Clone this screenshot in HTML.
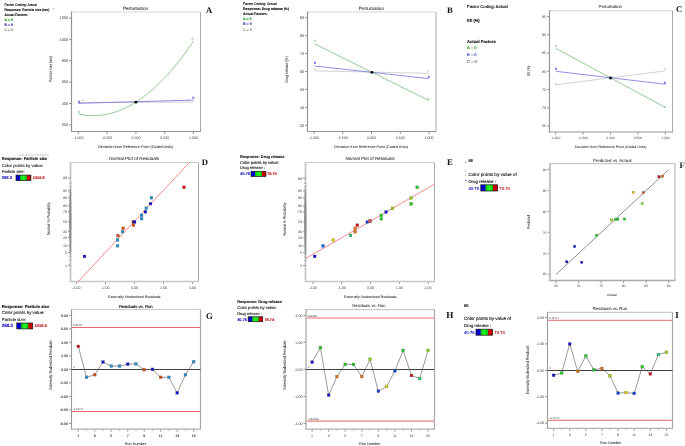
<!DOCTYPE html>
<html><head><meta charset="utf-8"><title>Figure</title><style>html,body{margin:0;padding:0;background:#fff;width:685px;height:446px;overflow:hidden;position:relative;}svg text{font-family:"Liberation Sans", sans-serif;text-rendering:geometricPrecision;} svg{will-change:transform;}</style></head><body>
<svg width="685" height="446" viewBox="0 0 685 446" style="display:block;position:absolute;left:0;top:0" font-family='"Liberation Sans", sans-serif'>
<defs><linearGradient id="cbar" x1="0" x2="1" y1="0" y2="0"><stop offset="0" stop-color="#0000d0"/><stop offset="0.25" stop-color="#0000d0"/><stop offset="0.3" stop-color="#10c010"/><stop offset="0.5" stop-color="#20ff20"/><stop offset="0.7" stop-color="#10c010"/><stop offset="0.75" stop-color="#d00000"/><stop offset="1" stop-color="#c00000"/></linearGradient></defs>
<rect x="0" y="0" width="685" height="446" fill="#ffffff"/>
<text x="4.50" y="5.97" font-size="3.53" fill="#000" stroke="#000" stroke-width="0.12" textLength="32.30" lengthAdjust="spacingAndGlyphs">Factor Coding: Actual</text>
<text x="4.50" y="11.17" font-size="3.53" fill="#111" stroke="#111" stroke-width="0.12" font-weight="bold" textLength="44.80" lengthAdjust="spacingAndGlyphs">Response: Particle size (nm)</text>
<text x="4.50" y="16.07" font-size="3.53" fill="#111" stroke="#111" stroke-width="0.12" font-weight="bold" textLength="23.30" lengthAdjust="spacingAndGlyphs">Actual Factors:</text>
<text x="4.50" y="21.19" font-size="3.57" fill="#1a9a1a" stroke="#1a9a1a" stroke-width="0.12" font-weight="bold" textLength="8.50" lengthAdjust="spacingAndGlyphs">A = 0</text>
<text x="4.50" y="26.37" font-size="3.53" fill="#2a2ab0" stroke="#2a2ab0" stroke-width="0.12" font-weight="bold" textLength="8.50" lengthAdjust="spacingAndGlyphs">B = 0</text>
<text x="4.50" y="31.27" font-size="3.53" fill="#777" stroke="#777" stroke-width="0.12" textLength="8.50" lengthAdjust="spacingAndGlyphs">C = 0</text>
<text x="53.20" y="10.55" font-size="4.3" fill="#555" stroke="#555" stroke-width="0.12">'</text>
<text x="123.00" y="10.05" font-size="4.59" fill="#000" textLength="25.00" lengthAdjust="spacingAndGlyphs">Perturbation</text>
<text x="206.00" y="13.00" font-size="8.6" fill="#111" font-weight="bold" style='font-family:"Liberation Serif", serif'>A</text>
<line x1="69.00" y1="18.00" x2="71.50" y2="18.00" stroke="#666" stroke-width="0.7" />
<text x="68.00" y="19.37" font-size="3.8" fill="#3a3a3a" text-anchor="end">1200</text>
<line x1="69.00" y1="39.30" x2="71.50" y2="39.30" stroke="#666" stroke-width="0.7" />
<text x="68.00" y="40.67" font-size="3.8" fill="#3a3a3a" text-anchor="end">1000</text>
<line x1="69.00" y1="60.70" x2="71.50" y2="60.70" stroke="#666" stroke-width="0.7" />
<text x="68.00" y="62.07" font-size="3.8" fill="#3a3a3a" text-anchor="end">800</text>
<line x1="69.00" y1="82.10" x2="71.50" y2="82.10" stroke="#666" stroke-width="0.7" />
<text x="68.00" y="83.47" font-size="3.8" fill="#3a3a3a" text-anchor="end">600</text>
<line x1="69.00" y1="103.50" x2="71.50" y2="103.50" stroke="#666" stroke-width="0.7" />
<text x="68.00" y="104.87" font-size="3.8" fill="#3a3a3a" text-anchor="end">400</text>
<line x1="69.00" y1="124.90" x2="71.50" y2="124.90" stroke="#666" stroke-width="0.7" />
<text x="68.00" y="126.27" font-size="3.8" fill="#3a3a3a" text-anchor="end">200</text>
<line x1="78.30" y1="131.50" x2="78.30" y2="134.00" stroke="#666" stroke-width="0.7" />
<text x="78.30" y="138.60" font-size="3.6" fill="#3a3a3a" text-anchor="middle">-1.000</text>
<line x1="107.10" y1="131.50" x2="107.10" y2="134.00" stroke="#666" stroke-width="0.7" />
<text x="107.10" y="138.60" font-size="3.6" fill="#3a3a3a" text-anchor="middle">-0.500</text>
<line x1="135.90" y1="131.50" x2="135.90" y2="134.00" stroke="#666" stroke-width="0.7" />
<text x="135.90" y="138.60" font-size="3.6" fill="#3a3a3a" text-anchor="middle">0.000</text>
<line x1="164.70" y1="131.50" x2="164.70" y2="134.00" stroke="#666" stroke-width="0.7" />
<text x="164.70" y="138.60" font-size="3.6" fill="#3a3a3a" text-anchor="middle">0.500</text>
<line x1="193.50" y1="131.50" x2="193.50" y2="134.00" stroke="#666" stroke-width="0.7" />
<text x="193.50" y="138.60" font-size="3.6" fill="#3a3a3a" text-anchor="middle">1.000</text>
<line x1="71.50" y1="12.00" x2="200.50" y2="12.00" stroke="#d8d8d8" stroke-width="1.2" />
<line x1="200.50" y1="12.00" x2="200.50" y2="131.50" stroke="#a8a8a8" stroke-width="1.0" />
<line x1="71.50" y1="11.50" x2="71.50" y2="132.10" stroke="#959595" stroke-width="1.2" />
<line x1="70.90" y1="131.50" x2="201.00" y2="131.50" stroke="#959595" stroke-width="1.2" />
<text x="98.20" y="147.73" font-size="3.69" fill="#000" textLength="75.00" lengthAdjust="spacingAndGlyphs">Deviation from Reference Point (Coded Units)</text>
<text transform="translate(50.90,69.10) rotate(-90)" x="0" y="1.51" font-size="4.2" fill="#000" text-anchor="middle" textLength="25.80" lengthAdjust="spacingAndGlyphs">Particle size (nm)</text>
<polyline points="78.30,113.95 81.18,114.53 84.06,114.98 86.94,115.31 89.82,115.52 92.70,115.61 95.58,115.57 98.46,115.41 101.34,115.13 104.22,114.72 107.10,114.19 109.98,113.54 112.86,112.76 115.74,111.86 118.62,110.84 121.50,109.70 124.38,108.43 127.26,107.04 130.14,105.52 133.02,103.89 135.90,102.13 138.78,100.25 141.66,98.24 144.54,96.11 147.42,93.86 150.30,91.49 153.18,88.99 156.06,86.37 158.94,83.62 161.82,80.76 164.70,77.77 167.58,74.65 170.46,71.42 173.34,68.06 176.22,64.58 179.10,60.97 181.98,57.25 184.86,53.39 187.74,49.42 190.62,45.32 193.50,41.10" fill="none" stroke="#4aaa4a" stroke-width="0.6"/>
<line x1="78.30" y1="102.60" x2="193.50" y2="102.10" stroke="#b4b4b4" stroke-width="0.6" />
<line x1="78.30" y1="103.30" x2="193.50" y2="100.10" stroke="#6c6cd8" stroke-width="0.8" />
<circle cx="135.9" cy="102.2" r="1.4" fill="#000"/>
<text x="78.00" y="112.95" font-size="3.2" fill="#3aa53a">A</text>
<text x="78.00" y="102.65" font-size="3.2" fill="#4040d0" font-weight="bold">B</text>
<text x="81.80" y="101.38" font-size="3.0" fill="#999">C</text>
<text x="191.50" y="39.95" font-size="3.2" fill="#3aa53a">A</text>
<text x="192.20" y="98.85" font-size="3.2" fill="#4040d0" font-weight="bold">B</text>
<text x="187.50" y="101.38" font-size="3.0" fill="#999">C</text>
<text x="243.10" y="4.67" font-size="3.53" fill="#000" stroke="#000" stroke-width="0.12" textLength="33.60" lengthAdjust="spacingAndGlyphs">Factor Coding: Actual</text>
<text x="243.10" y="9.97" font-size="3.53" fill="#111" stroke="#111" stroke-width="0.12" font-weight="bold" textLength="46.00" lengthAdjust="spacingAndGlyphs">Response: Drug release  (%)</text>
<text x="243.10" y="14.97" font-size="3.53" fill="#111" stroke="#111" stroke-width="0.12" font-weight="bold" textLength="24.50" lengthAdjust="spacingAndGlyphs">Actual Factors:</text>
<text x="243.10" y="20.09" font-size="3.57" fill="#1a9a1a" stroke="#1a9a1a" stroke-width="0.12" font-weight="bold" textLength="8.50" lengthAdjust="spacingAndGlyphs">A = 0</text>
<text x="243.10" y="25.27" font-size="3.53" fill="#2a2ab0" stroke="#2a2ab0" stroke-width="0.12" font-weight="bold" textLength="8.50" lengthAdjust="spacingAndGlyphs">B = 0</text>
<text x="243.10" y="30.57" font-size="3.53" fill="#777" stroke="#777" stroke-width="0.12" textLength="8.50" lengthAdjust="spacingAndGlyphs">C = 0</text>
<text x="358.80" y="9.67" font-size="4.63" fill="#000" textLength="25.20" lengthAdjust="spacingAndGlyphs">Perturbation</text>
<text x="447.00" y="13.00" font-size="8.6" fill="#111" font-weight="bold" style='font-family:"Liberation Serif", serif'>B</text>
<line x1="305.00" y1="17.70" x2="307.50" y2="17.70" stroke="#666" stroke-width="0.7" />
<text x="304.00" y="19.07" font-size="3.8" fill="#3a3a3a" text-anchor="end">90</text>
<line x1="305.00" y1="35.63" x2="307.50" y2="35.63" stroke="#666" stroke-width="0.7" />
<text x="304.00" y="37.00" font-size="3.8" fill="#3a3a3a" text-anchor="end">80</text>
<line x1="305.00" y1="53.56" x2="307.50" y2="53.56" stroke="#666" stroke-width="0.7" />
<text x="304.00" y="54.93" font-size="3.8" fill="#3a3a3a" text-anchor="end">70</text>
<line x1="305.00" y1="71.49" x2="307.50" y2="71.49" stroke="#666" stroke-width="0.7" />
<text x="304.00" y="72.86" font-size="3.8" fill="#3a3a3a" text-anchor="end">60</text>
<line x1="305.00" y1="89.42" x2="307.50" y2="89.42" stroke="#666" stroke-width="0.7" />
<text x="304.00" y="90.79" font-size="3.8" fill="#3a3a3a" text-anchor="end">50</text>
<line x1="305.00" y1="107.35" x2="307.50" y2="107.35" stroke="#666" stroke-width="0.7" />
<text x="304.00" y="108.72" font-size="3.8" fill="#3a3a3a" text-anchor="end">40</text>
<line x1="305.00" y1="125.28" x2="307.50" y2="125.28" stroke="#666" stroke-width="0.7" />
<text x="304.00" y="126.65" font-size="3.8" fill="#3a3a3a" text-anchor="end">30</text>
<line x1="313.90" y1="131.50" x2="313.90" y2="134.00" stroke="#666" stroke-width="0.7" />
<text x="313.90" y="138.60" font-size="3.6" fill="#3a3a3a" text-anchor="middle">-1.000</text>
<line x1="342.70" y1="131.50" x2="342.70" y2="134.00" stroke="#666" stroke-width="0.7" />
<text x="342.70" y="138.60" font-size="3.6" fill="#3a3a3a" text-anchor="middle">-0.500</text>
<line x1="371.50" y1="131.50" x2="371.50" y2="134.00" stroke="#666" stroke-width="0.7" />
<text x="371.50" y="138.60" font-size="3.6" fill="#3a3a3a" text-anchor="middle">0.000</text>
<line x1="400.30" y1="131.50" x2="400.30" y2="134.00" stroke="#666" stroke-width="0.7" />
<text x="400.30" y="138.60" font-size="3.6" fill="#3a3a3a" text-anchor="middle">0.500</text>
<line x1="429.10" y1="131.50" x2="429.10" y2="134.00" stroke="#666" stroke-width="0.7" />
<text x="429.10" y="138.60" font-size="3.6" fill="#3a3a3a" text-anchor="middle">1.000</text>
<line x1="307.50" y1="12.00" x2="436.00" y2="12.00" stroke="#d8d8d8" stroke-width="1.2" />
<line x1="436.00" y1="12.00" x2="436.00" y2="131.50" stroke="#a8a8a8" stroke-width="1.0" />
<line x1="307.50" y1="11.50" x2="307.50" y2="132.10" stroke="#959595" stroke-width="1.2" />
<line x1="306.90" y1="131.50" x2="436.50" y2="131.50" stroke="#959595" stroke-width="1.2" />
<text x="334.30" y="147.71" font-size="3.64" fill="#000" textLength="74.00" lengthAdjust="spacingAndGlyphs">Deviation from Reference Point (Coded Units)</text>
<text transform="translate(286.50,69.30) rotate(-90)" x="0" y="1.51" font-size="4.2" fill="#000" text-anchor="middle" textLength="26.30" lengthAdjust="spacingAndGlyphs">Drug release (%)</text>
<line x1="314.70" y1="43.90" x2="428.80" y2="100.50" stroke="#4aaa4a" stroke-width="0.6" />
<line x1="314.70" y1="70.90" x2="428.80" y2="73.30" stroke="#b4b4b4" stroke-width="0.6" />
<line x1="314.70" y1="66.00" x2="428.80" y2="78.60" stroke="#6c6cd8" stroke-width="0.75" />
<circle cx="371.9" cy="72.3" r="1.4" fill="#000"/>
<text x="313.70" y="42.35" font-size="3.2" fill="#3aa53a">A</text>
<text x="313.70" y="64.45" font-size="3.2" fill="#4040d0" font-weight="bold">B</text>
<text x="313.70" y="70.28" font-size="3.0" fill="#999">C</text>
<text x="427.30" y="100.15" font-size="3.2" fill="#3aa53a">A</text>
<text x="427.80" y="77.75" font-size="3.2" fill="#4040d0" font-weight="bold">B</text>
<text x="427.30" y="71.98" font-size="3.0" fill="#999">C</text>
<text x="467.10" y="7.83" font-size="4.26" fill="#000" stroke="#000" stroke-width="0.12" textLength="40.50" lengthAdjust="spacingAndGlyphs">Factor Coding: Actual</text>
<text x="467.10" y="21.93" font-size="4.26" fill="#111" stroke="#111" stroke-width="0.12" font-weight="bold" textLength="12.50" lengthAdjust="spacingAndGlyphs">EE (%)</text>
<text x="467.10" y="42.63" font-size="4.26" fill="#111" stroke="#111" stroke-width="0.12" font-weight="bold" textLength="28.70" lengthAdjust="spacingAndGlyphs">Actual Factors</text>
<text x="467.10" y="49.38" font-size="4.12" fill="#1a9a1a" stroke="#1a9a1a" stroke-width="0.12" textLength="9.50" lengthAdjust="spacingAndGlyphs">A = 0</text>
<text x="467.10" y="56.48" font-size="4.1" fill="#2a2ab0" stroke="#2a2ab0" stroke-width="0.12" textLength="9.50" lengthAdjust="spacingAndGlyphs">B = 0</text>
<text x="467.10" y="63.18" font-size="4.1" fill="#555" stroke="#555" stroke-width="0.12" textLength="9.50" lengthAdjust="spacingAndGlyphs">C = 0</text>
<text x="598.60" y="8.25" font-size="4.3" fill="#000" textLength="23.40" lengthAdjust="spacingAndGlyphs">Perturbation</text>
<text x="676.00" y="11.90" font-size="8.6" fill="#111" font-weight="bold" style='font-family:"Liberation Serif", serif'>C</text>
<line x1="547.00" y1="16.60" x2="549.50" y2="16.60" stroke="#666" stroke-width="0.7" />
<text x="546.00" y="17.90" font-size="3.6" fill="#3a3a3a" text-anchor="end">95</text>
<line x1="547.00" y1="34.83" x2="549.50" y2="34.83" stroke="#666" stroke-width="0.7" />
<text x="546.00" y="36.13" font-size="3.6" fill="#3a3a3a" text-anchor="end">90</text>
<line x1="547.00" y1="53.06" x2="549.50" y2="53.06" stroke="#666" stroke-width="0.7" />
<text x="546.00" y="54.36" font-size="3.6" fill="#3a3a3a" text-anchor="end">85</text>
<line x1="547.00" y1="71.29" x2="549.50" y2="71.29" stroke="#666" stroke-width="0.7" />
<text x="546.00" y="72.59" font-size="3.6" fill="#3a3a3a" text-anchor="end">80</text>
<line x1="547.00" y1="89.52" x2="549.50" y2="89.52" stroke="#666" stroke-width="0.7" />
<text x="546.00" y="90.82" font-size="3.6" fill="#3a3a3a" text-anchor="end">75</text>
<line x1="547.00" y1="107.75" x2="549.50" y2="107.75" stroke="#666" stroke-width="0.7" />
<text x="546.00" y="109.05" font-size="3.6" fill="#3a3a3a" text-anchor="end">70</text>
<line x1="547.00" y1="125.98" x2="549.50" y2="125.98" stroke="#666" stroke-width="0.7" />
<text x="546.00" y="127.28" font-size="3.6" fill="#3a3a3a" text-anchor="end">65</text>
<line x1="555.60" y1="132.00" x2="555.60" y2="134.50" stroke="#666" stroke-width="0.7" />
<text x="555.60" y="139.02" font-size="3.4" fill="#3a3a3a" text-anchor="middle">-1.000</text>
<line x1="583.05" y1="132.00" x2="583.05" y2="134.50" stroke="#666" stroke-width="0.7" />
<text x="583.05" y="139.02" font-size="3.4" fill="#3a3a3a" text-anchor="middle">-0.500</text>
<line x1="610.50" y1="132.00" x2="610.50" y2="134.50" stroke="#666" stroke-width="0.7" />
<text x="610.50" y="139.02" font-size="3.4" fill="#3a3a3a" text-anchor="middle">0.000</text>
<line x1="637.95" y1="132.00" x2="637.95" y2="134.50" stroke="#666" stroke-width="0.7" />
<text x="637.95" y="139.02" font-size="3.4" fill="#3a3a3a" text-anchor="middle">0.500</text>
<line x1="665.40" y1="132.00" x2="665.40" y2="134.50" stroke="#666" stroke-width="0.7" />
<text x="665.40" y="139.02" font-size="3.4" fill="#3a3a3a" text-anchor="middle">1.000</text>
<line x1="549.50" y1="10.70" x2="672.50" y2="10.70" stroke="#d8d8d8" stroke-width="1.2" />
<line x1="672.50" y1="10.70" x2="672.50" y2="132.00" stroke="#a8a8a8" stroke-width="1.0" />
<line x1="549.50" y1="10.20" x2="549.50" y2="132.60" stroke="#959595" stroke-width="1.2" />
<line x1="548.90" y1="132.00" x2="673.00" y2="132.00" stroke="#959595" stroke-width="1.2" />
<text x="574.70" y="147.97" font-size="3.53" fill="#000" textLength="71.80" lengthAdjust="spacingAndGlyphs">Deviation from Reference Point (Coded Units)</text>
<text transform="translate(528.70,70.80) rotate(-90)" x="0" y="1.51" font-size="4.2" fill="#000" text-anchor="middle" textLength="10.30" lengthAdjust="spacingAndGlyphs">EE (%)</text>
<line x1="555.90" y1="48.40" x2="665.10" y2="107.30" stroke="#4aaa4a" stroke-width="0.6" />
<line x1="555.90" y1="84.80" x2="665.10" y2="70.90" stroke="#b4b4b4" stroke-width="0.6" />
<line x1="555.90" y1="71.30" x2="665.10" y2="84.20" stroke="#6c6cd8" stroke-width="0.75" />
<circle cx="610.5" cy="78.0" r="1.4" fill="#000"/>
<text x="554.90" y="46.85" font-size="3.2" fill="#3aa53a">A</text>
<text x="554.90" y="70.35" font-size="3.2" fill="#4040d0" font-weight="bold">B</text>
<text x="554.90" y="84.78" font-size="3.0" fill="#999">C</text>
<text x="664.10" y="108.15" font-size="3.2" fill="#3aa53a">A</text>
<text x="664.10" y="83.85" font-size="3.2" fill="#4040d0" font-weight="bold">B</text>
<text x="664.10" y="69.88" font-size="3.0" fill="#999">C</text>
<text x="18.40" y="155.88" font-size="3.28" fill="#ccc" stroke="#ccc" stroke-width="0.12" textLength="30.50" lengthAdjust="spacingAndGlyphs">Deviation from Reference Point (Coded Units)</text>
<text x="1.80" y="160.46" font-size="4.06" fill="#111" stroke="#111" stroke-width="0.12" font-weight="bold" textLength="45.30" lengthAdjust="spacingAndGlyphs">Response: Particle size</text>
<text x="1.80" y="167.04" font-size="4.28" fill="#222" stroke="#222" stroke-width="0.12" textLength="41.20" lengthAdjust="spacingAndGlyphs">Color points by value:</text>
<text x="1.80" y="172.75" font-size="4.04" fill="#222" stroke="#222" stroke-width="0.12" textLength="22.90" lengthAdjust="spacingAndGlyphs">Particle size:</text>
<text x="1.80" y="179.08" font-size="4.12" fill="#2020c0" stroke="#2020c0" stroke-width="0.12" font-weight="bold" textLength="10.30" lengthAdjust="spacingAndGlyphs">298.3</text>
<rect x="16.00" y="175.10" width="14.90" height="5.40" fill="url(#cbar)" stroke="#111" stroke-width="0.7"/>
<text x="32.70" y="179.03" font-size="3.96" fill="#c02020" stroke="#c02020" stroke-width="0.12" font-weight="bold" textLength="12.10" lengthAdjust="spacingAndGlyphs">1019.6</text>
<text x="109.30" y="160.43" font-size="4.52" fill="#000" textLength="49.70" lengthAdjust="spacingAndGlyphs">Normal Plot of Residuals</text>
<text x="201.70" y="165.20" font-size="8.6" fill="#111" font-weight="bold" style='font-family:"Liberation Serif", serif'>D</text>
<line x1="76.40" y1="281.50" x2="76.40" y2="284.00" stroke="#666" stroke-width="0.7" />
<text x="76.40" y="288.80" font-size="3.6" fill="#3a3a3a" text-anchor="middle">-4.00</text>
<line x1="105.45" y1="281.50" x2="105.45" y2="284.00" stroke="#666" stroke-width="0.7" />
<text x="105.45" y="288.80" font-size="3.6" fill="#3a3a3a" text-anchor="middle">-2.00</text>
<line x1="134.50" y1="281.50" x2="134.50" y2="284.00" stroke="#666" stroke-width="0.7" />
<text x="134.50" y="288.80" font-size="3.6" fill="#3a3a3a" text-anchor="middle">0.00</text>
<line x1="163.55" y1="281.50" x2="163.55" y2="284.00" stroke="#666" stroke-width="0.7" />
<text x="163.55" y="288.80" font-size="3.6" fill="#3a3a3a" text-anchor="middle">2.00</text>
<line x1="192.60" y1="281.50" x2="192.60" y2="284.00" stroke="#666" stroke-width="0.7" />
<text x="192.60" y="288.80" font-size="3.6" fill="#3a3a3a" text-anchor="middle">4.00</text>
<line x1="70.50" y1="162.50" x2="198.50" y2="162.50" stroke="#cccccc" stroke-width="1.0" />
<line x1="198.50" y1="162.50" x2="198.50" y2="281.50" stroke="#a8a8a8" stroke-width="1.0" />
<line x1="70.50" y1="162.00" x2="70.50" y2="282.10" stroke="#c6c6c6" stroke-width="1.8" />
<line x1="69.90" y1="281.50" x2="199.00" y2="281.50" stroke="#c6c6c6" stroke-width="1.5" />
<line x1="68.00" y1="177.98" x2="70.50" y2="177.98" stroke="#666" stroke-width="0.7" />
<text x="67.00" y="179.28" font-size="3.6" fill="#3a3a3a" text-anchor="end">99</text>
<line x1="68.00" y1="190.78" x2="70.50" y2="190.78" stroke="#666" stroke-width="0.7" />
<text x="67.00" y="192.07" font-size="3.6" fill="#3a3a3a" text-anchor="end">95</text>
<line x1="68.00" y1="197.60" x2="70.50" y2="197.60" stroke="#666" stroke-width="0.7" />
<text x="67.00" y="198.89" font-size="3.6" fill="#3a3a3a" text-anchor="end">90</text>
<line x1="68.00" y1="205.85" x2="70.50" y2="205.85" stroke="#666" stroke-width="0.7" />
<text x="67.00" y="207.15" font-size="3.6" fill="#3a3a3a" text-anchor="end">80</text>
<line x1="68.00" y1="211.81" x2="70.50" y2="211.81" stroke="#666" stroke-width="0.7" />
<text x="67.00" y="213.10" font-size="3.6" fill="#3a3a3a" text-anchor="end">70</text>
<line x1="68.00" y1="221.65" x2="70.50" y2="221.65" stroke="#666" stroke-width="0.7" />
<text x="67.00" y="222.95" font-size="3.6" fill="#3a3a3a" text-anchor="end">50</text>
<line x1="68.00" y1="231.49" x2="70.50" y2="231.49" stroke="#666" stroke-width="0.7" />
<text x="67.00" y="232.79" font-size="3.6" fill="#3a3a3a" text-anchor="end">30</text>
<line x1="68.00" y1="237.45" x2="70.50" y2="237.45" stroke="#666" stroke-width="0.7" />
<text x="67.00" y="238.74" font-size="3.6" fill="#3a3a3a" text-anchor="end">20</text>
<line x1="68.00" y1="245.70" x2="70.50" y2="245.70" stroke="#666" stroke-width="0.7" />
<text x="67.00" y="247.00" font-size="3.6" fill="#3a3a3a" text-anchor="end">10</text>
<line x1="68.00" y1="252.52" x2="70.50" y2="252.52" stroke="#666" stroke-width="0.7" />
<text x="67.00" y="253.82" font-size="3.6" fill="#3a3a3a" text-anchor="end">5</text>
<line x1="68.00" y1="265.32" x2="70.50" y2="265.32" stroke="#666" stroke-width="0.7" />
<text x="67.00" y="266.61" font-size="3.6" fill="#3a3a3a" text-anchor="end">1</text>
<line x1="69.20" y1="260.20" x2="71.40" y2="260.20" stroke="#555" stroke-width="0.4" />
<line x1="69.20" y1="256.95" x2="71.40" y2="256.95" stroke="#555" stroke-width="0.4" />
<line x1="69.20" y1="254.51" x2="71.40" y2="254.51" stroke="#555" stroke-width="0.4" />
<line x1="69.20" y1="250.83" x2="71.40" y2="250.83" stroke="#555" stroke-width="0.4" />
<line x1="69.20" y1="249.35" x2="71.40" y2="249.35" stroke="#555" stroke-width="0.4" />
<line x1="69.20" y1="248.02" x2="71.40" y2="248.02" stroke="#555" stroke-width="0.4" />
<line x1="69.20" y1="246.82" x2="71.40" y2="246.82" stroke="#555" stroke-width="0.4" />
<line x1="69.20" y1="244.67" x2="71.40" y2="244.67" stroke="#555" stroke-width="0.4" />
<line x1="69.20" y1="243.70" x2="71.40" y2="243.70" stroke="#555" stroke-width="0.4" />
<line x1="69.20" y1="242.79" x2="71.40" y2="242.79" stroke="#555" stroke-width="0.4" />
<line x1="69.20" y1="241.93" x2="71.40" y2="241.93" stroke="#555" stroke-width="0.4" />
<line x1="69.20" y1="241.10" x2="71.40" y2="241.10" stroke="#555" stroke-width="0.4" />
<line x1="69.20" y1="240.32" x2="71.40" y2="240.32" stroke="#555" stroke-width="0.4" />
<line x1="69.20" y1="239.56" x2="71.40" y2="239.56" stroke="#555" stroke-width="0.4" />
<line x1="69.20" y1="238.83" x2="71.40" y2="238.83" stroke="#555" stroke-width="0.4" />
<line x1="69.20" y1="238.13" x2="71.40" y2="238.13" stroke="#555" stroke-width="0.4" />
<line x1="69.20" y1="236.79" x2="71.40" y2="236.79" stroke="#555" stroke-width="0.4" />
<line x1="69.20" y1="236.14" x2="71.40" y2="236.14" stroke="#555" stroke-width="0.4" />
<line x1="69.20" y1="235.52" x2="71.40" y2="235.52" stroke="#555" stroke-width="0.4" />
<line x1="69.20" y1="234.91" x2="71.40" y2="234.91" stroke="#555" stroke-width="0.4" />
<line x1="69.20" y1="234.31" x2="71.40" y2="234.31" stroke="#555" stroke-width="0.4" />
<line x1="69.20" y1="233.73" x2="71.40" y2="233.73" stroke="#555" stroke-width="0.4" />
<line x1="69.20" y1="233.15" x2="71.40" y2="233.15" stroke="#555" stroke-width="0.4" />
<line x1="69.20" y1="232.59" x2="71.40" y2="232.59" stroke="#555" stroke-width="0.4" />
<line x1="69.20" y1="232.04" x2="71.40" y2="232.04" stroke="#555" stroke-width="0.4" />
<line x1="69.20" y1="230.96" x2="71.40" y2="230.96" stroke="#555" stroke-width="0.4" />
<line x1="69.20" y1="230.43" x2="71.40" y2="230.43" stroke="#555" stroke-width="0.4" />
<line x1="69.20" y1="229.91" x2="71.40" y2="229.91" stroke="#555" stroke-width="0.4" />
<line x1="69.20" y1="229.39" x2="71.40" y2="229.39" stroke="#555" stroke-width="0.4" />
<line x1="69.20" y1="228.88" x2="71.40" y2="228.88" stroke="#555" stroke-width="0.4" />
<line x1="69.20" y1="228.38" x2="71.40" y2="228.38" stroke="#555" stroke-width="0.4" />
<line x1="69.20" y1="227.88" x2="71.40" y2="227.88" stroke="#555" stroke-width="0.4" />
<line x1="69.20" y1="227.38" x2="71.40" y2="227.38" stroke="#555" stroke-width="0.4" />
<line x1="69.20" y1="226.89" x2="71.40" y2="226.89" stroke="#555" stroke-width="0.4" />
<line x1="69.20" y1="226.41" x2="71.40" y2="226.41" stroke="#555" stroke-width="0.4" />
<line x1="69.20" y1="225.92" x2="71.40" y2="225.92" stroke="#555" stroke-width="0.4" />
<line x1="69.20" y1="225.44" x2="71.40" y2="225.44" stroke="#555" stroke-width="0.4" />
<line x1="69.20" y1="224.96" x2="71.40" y2="224.96" stroke="#555" stroke-width="0.4" />
<line x1="69.20" y1="224.48" x2="71.40" y2="224.48" stroke="#555" stroke-width="0.4" />
<line x1="69.20" y1="224.01" x2="71.40" y2="224.01" stroke="#555" stroke-width="0.4" />
<line x1="69.20" y1="223.54" x2="71.40" y2="223.54" stroke="#555" stroke-width="0.4" />
<line x1="69.20" y1="223.06" x2="71.40" y2="223.06" stroke="#555" stroke-width="0.4" />
<line x1="69.20" y1="222.59" x2="71.40" y2="222.59" stroke="#555" stroke-width="0.4" />
<line x1="69.20" y1="222.12" x2="71.40" y2="222.12" stroke="#555" stroke-width="0.4" />
<line x1="69.20" y1="221.18" x2="71.40" y2="221.18" stroke="#555" stroke-width="0.4" />
<line x1="69.20" y1="220.71" x2="71.40" y2="220.71" stroke="#555" stroke-width="0.4" />
<line x1="69.20" y1="220.24" x2="71.40" y2="220.24" stroke="#555" stroke-width="0.4" />
<line x1="69.20" y1="219.76" x2="71.40" y2="219.76" stroke="#555" stroke-width="0.4" />
<line x1="69.20" y1="219.29" x2="71.40" y2="219.29" stroke="#555" stroke-width="0.4" />
<line x1="69.20" y1="218.82" x2="71.40" y2="218.82" stroke="#555" stroke-width="0.4" />
<line x1="69.20" y1="218.34" x2="71.40" y2="218.34" stroke="#555" stroke-width="0.4" />
<line x1="69.20" y1="217.86" x2="71.40" y2="217.86" stroke="#555" stroke-width="0.4" />
<line x1="69.20" y1="217.38" x2="71.40" y2="217.38" stroke="#555" stroke-width="0.4" />
<line x1="69.20" y1="216.89" x2="71.40" y2="216.89" stroke="#555" stroke-width="0.4" />
<line x1="69.20" y1="216.41" x2="71.40" y2="216.41" stroke="#555" stroke-width="0.4" />
<line x1="69.20" y1="215.92" x2="71.40" y2="215.92" stroke="#555" stroke-width="0.4" />
<line x1="69.20" y1="215.42" x2="71.40" y2="215.42" stroke="#555" stroke-width="0.4" />
<line x1="69.20" y1="214.92" x2="71.40" y2="214.92" stroke="#555" stroke-width="0.4" />
<line x1="69.20" y1="214.42" x2="71.40" y2="214.42" stroke="#555" stroke-width="0.4" />
<line x1="69.20" y1="213.91" x2="71.40" y2="213.91" stroke="#555" stroke-width="0.4" />
<line x1="69.20" y1="213.39" x2="71.40" y2="213.39" stroke="#555" stroke-width="0.4" />
<line x1="69.20" y1="212.87" x2="71.40" y2="212.87" stroke="#555" stroke-width="0.4" />
<line x1="69.20" y1="212.34" x2="71.40" y2="212.34" stroke="#555" stroke-width="0.4" />
<line x1="69.20" y1="211.26" x2="71.40" y2="211.26" stroke="#555" stroke-width="0.4" />
<line x1="69.20" y1="210.71" x2="71.40" y2="210.71" stroke="#555" stroke-width="0.4" />
<line x1="69.20" y1="210.15" x2="71.40" y2="210.15" stroke="#555" stroke-width="0.4" />
<line x1="69.20" y1="209.57" x2="71.40" y2="209.57" stroke="#555" stroke-width="0.4" />
<line x1="69.20" y1="208.99" x2="71.40" y2="208.99" stroke="#555" stroke-width="0.4" />
<line x1="69.20" y1="208.39" x2="71.40" y2="208.39" stroke="#555" stroke-width="0.4" />
<line x1="69.20" y1="207.78" x2="71.40" y2="207.78" stroke="#555" stroke-width="0.4" />
<line x1="69.20" y1="207.16" x2="71.40" y2="207.16" stroke="#555" stroke-width="0.4" />
<line x1="69.20" y1="206.51" x2="71.40" y2="206.51" stroke="#555" stroke-width="0.4" />
<line x1="69.20" y1="205.17" x2="71.40" y2="205.17" stroke="#555" stroke-width="0.4" />
<line x1="69.20" y1="204.47" x2="71.40" y2="204.47" stroke="#555" stroke-width="0.4" />
<line x1="69.20" y1="203.74" x2="71.40" y2="203.74" stroke="#555" stroke-width="0.4" />
<line x1="69.20" y1="202.98" x2="71.40" y2="202.98" stroke="#555" stroke-width="0.4" />
<line x1="69.20" y1="202.20" x2="71.40" y2="202.20" stroke="#555" stroke-width="0.4" />
<line x1="69.20" y1="201.37" x2="71.40" y2="201.37" stroke="#555" stroke-width="0.4" />
<line x1="69.20" y1="200.51" x2="71.40" y2="200.51" stroke="#555" stroke-width="0.4" />
<line x1="69.20" y1="199.60" x2="71.40" y2="199.60" stroke="#555" stroke-width="0.4" />
<line x1="69.20" y1="198.63" x2="71.40" y2="198.63" stroke="#555" stroke-width="0.4" />
<line x1="69.20" y1="196.48" x2="71.40" y2="196.48" stroke="#555" stroke-width="0.4" />
<line x1="69.20" y1="195.28" x2="71.40" y2="195.28" stroke="#555" stroke-width="0.4" />
<line x1="69.20" y1="193.95" x2="71.40" y2="193.95" stroke="#555" stroke-width="0.4" />
<line x1="69.20" y1="192.47" x2="71.40" y2="192.47" stroke="#555" stroke-width="0.4" />
<line x1="69.20" y1="188.79" x2="71.40" y2="188.79" stroke="#555" stroke-width="0.4" />
<line x1="69.20" y1="186.35" x2="71.40" y2="186.35" stroke="#555" stroke-width="0.4" />
<line x1="69.20" y1="183.10" x2="71.40" y2="183.10" stroke="#555" stroke-width="0.4" />
<line x1="70.50" y1="189.83" x2="70.50" y2="253.47" stroke="#8a8a8a" stroke-width="1.0" />
<line x1="78.50" y1="281.30" x2="189.50" y2="162.30" stroke="#f07070" stroke-width="0.8" />
<rect x="83.10" y="255.00" width="2.80" height="2.80" fill="#1010c8" stroke="#444" stroke-width="0.35" stroke-opacity="0.6"/>
<rect x="116.10" y="244.40" width="2.80" height="2.80" fill="#2090d0" stroke="#444" stroke-width="0.35" stroke-opacity="0.6"/>
<rect x="116.10" y="238.60" width="2.80" height="2.80" fill="#2090d0" stroke="#444" stroke-width="0.35" stroke-opacity="0.6"/>
<rect x="116.60" y="234.30" width="2.80" height="2.80" fill="#d84a10" stroke="#444" stroke-width="0.35" stroke-opacity="0.6"/>
<rect x="121.10" y="230.30" width="2.80" height="2.80" fill="#2090d0" stroke="#444" stroke-width="0.35" stroke-opacity="0.6"/>
<rect x="121.80" y="226.90" width="2.80" height="2.80" fill="#d84a10" stroke="#444" stroke-width="0.35" stroke-opacity="0.6"/>
<rect x="132.10" y="223.80" width="2.80" height="2.80" fill="#d84a10" stroke="#444" stroke-width="0.35" stroke-opacity="0.6"/>
<rect x="131.90" y="220.40" width="2.80" height="2.80" fill="#8a2020" stroke="#444" stroke-width="0.35" stroke-opacity="0.6"/>
<rect x="133.20" y="220.60" width="2.80" height="2.80" fill="#1010c8" stroke="#444" stroke-width="0.35" stroke-opacity="0.6"/>
<rect x="140.20" y="217.30" width="2.80" height="2.80" fill="#2090d0" stroke="#444" stroke-width="0.35" stroke-opacity="0.6"/>
<rect x="140.20" y="213.90" width="2.80" height="2.80" fill="#2090d0" stroke="#444" stroke-width="0.35" stroke-opacity="0.6"/>
<rect x="144.00" y="210.50" width="2.80" height="2.80" fill="#1010c8" stroke="#444" stroke-width="0.35" stroke-opacity="0.6"/>
<rect x="144.90" y="206.80" width="2.80" height="2.80" fill="#2090d0" stroke="#444" stroke-width="0.35" stroke-opacity="0.6"/>
<rect x="149.10" y="202.30" width="2.80" height="2.80" fill="#1010c8" stroke="#444" stroke-width="0.35" stroke-opacity="0.6"/>
<rect x="150.00" y="196.40" width="2.80" height="2.80" fill="#2090d0" stroke="#444" stroke-width="0.35" stroke-opacity="0.6"/>
<rect x="182.60" y="185.90" width="2.80" height="2.80" fill="#cc1010" stroke="#444" stroke-width="0.35" stroke-opacity="0.6"/>
<text x="108.00" y="297.60" font-size="3.6" fill="#000" textLength="52.60" lengthAdjust="spacingAndGlyphs">Externally Studentized Residuals</text>
<text transform="translate(48.90,218.60) rotate(-90)" x="0" y="1.51" font-size="4.2" fill="#000" text-anchor="middle" textLength="33.00" lengthAdjust="spacingAndGlyphs">Normal % Probability</text>
<text x="240.00" y="157.89" font-size="3.87" fill="#111" stroke="#111" stroke-width="0.12" font-weight="bold" textLength="44.30" lengthAdjust="spacingAndGlyphs">Response: Drug release</text>
<text x="240.00" y="163.56" font-size="4.05" fill="#222" stroke="#222" stroke-width="0.12" textLength="38.90" lengthAdjust="spacingAndGlyphs">Color points by value:</text>
<text x="240.00" y="169.33" font-size="3.98" fill="#222" stroke="#222" stroke-width="0.12" textLength="25.00" lengthAdjust="spacingAndGlyphs">Drug release :</text>
<text x="240.00" y="175.03" font-size="3.96" fill="#2020c0" stroke="#2020c0" stroke-width="0.12" font-weight="bold" textLength="9.90" lengthAdjust="spacingAndGlyphs">40.76</text>
<rect x="251.00" y="171.30" width="14.90" height="5.20" fill="url(#cbar)" stroke="#111" stroke-width="0.7"/>
<text x="267.00" y="175.01" font-size="3.92" fill="#c02020" stroke="#c02020" stroke-width="0.12" font-weight="bold" textLength="9.80" lengthAdjust="spacingAndGlyphs">78.74</text>
<text x="345.40" y="160.42" font-size="4.49" fill="#000" textLength="49.40" lengthAdjust="spacingAndGlyphs">Normal Plot of Residuals</text>
<text x="447.00" y="165.20" font-size="8.8" fill="#111" font-weight="bold" style='font-family:"Liberation Serif", serif'>E</text>
<line x1="312.80" y1="281.50" x2="312.80" y2="284.00" stroke="#666" stroke-width="0.7" />
<text x="312.80" y="288.80" font-size="3.6" fill="#3a3a3a" text-anchor="middle">-2.00</text>
<line x1="341.63" y1="281.50" x2="341.63" y2="284.00" stroke="#666" stroke-width="0.7" />
<text x="341.63" y="288.80" font-size="3.6" fill="#3a3a3a" text-anchor="middle">-1.00</text>
<line x1="370.46" y1="281.50" x2="370.46" y2="284.00" stroke="#666" stroke-width="0.7" />
<text x="370.46" y="288.80" font-size="3.6" fill="#3a3a3a" text-anchor="middle">0.00</text>
<line x1="399.29" y1="281.50" x2="399.29" y2="284.00" stroke="#666" stroke-width="0.7" />
<text x="399.29" y="288.80" font-size="3.6" fill="#3a3a3a" text-anchor="middle">1.00</text>
<line x1="428.12" y1="281.50" x2="428.12" y2="284.00" stroke="#666" stroke-width="0.7" />
<text x="428.12" y="288.80" font-size="3.6" fill="#3a3a3a" text-anchor="middle">2.00</text>
<line x1="305.50" y1="162.50" x2="434.50" y2="162.50" stroke="#cccccc" stroke-width="1.0" />
<line x1="434.50" y1="162.50" x2="434.50" y2="281.50" stroke="#a8a8a8" stroke-width="1.0" />
<line x1="305.50" y1="162.00" x2="305.50" y2="282.10" stroke="#c6c6c6" stroke-width="1.8" />
<line x1="304.90" y1="281.50" x2="435.00" y2="281.50" stroke="#c6c6c6" stroke-width="1.5" />
<line x1="303.00" y1="178.23" x2="305.50" y2="178.23" stroke="#666" stroke-width="0.7" />
<text x="302.00" y="179.53" font-size="3.6" fill="#3a3a3a" text-anchor="end">99</text>
<line x1="303.00" y1="191.03" x2="305.50" y2="191.03" stroke="#666" stroke-width="0.7" />
<text x="302.00" y="192.32" font-size="3.6" fill="#3a3a3a" text-anchor="end">95</text>
<line x1="303.00" y1="197.85" x2="305.50" y2="197.85" stroke="#666" stroke-width="0.7" />
<text x="302.00" y="199.14" font-size="3.6" fill="#3a3a3a" text-anchor="end">90</text>
<line x1="303.00" y1="206.10" x2="305.50" y2="206.10" stroke="#666" stroke-width="0.7" />
<text x="302.00" y="207.40" font-size="3.6" fill="#3a3a3a" text-anchor="end">80</text>
<line x1="303.00" y1="212.06" x2="305.50" y2="212.06" stroke="#666" stroke-width="0.7" />
<text x="302.00" y="213.35" font-size="3.6" fill="#3a3a3a" text-anchor="end">70</text>
<line x1="303.00" y1="221.90" x2="305.50" y2="221.90" stroke="#666" stroke-width="0.7" />
<text x="302.00" y="223.20" font-size="3.6" fill="#3a3a3a" text-anchor="end">50</text>
<line x1="303.00" y1="231.74" x2="305.50" y2="231.74" stroke="#666" stroke-width="0.7" />
<text x="302.00" y="233.04" font-size="3.6" fill="#3a3a3a" text-anchor="end">30</text>
<line x1="303.00" y1="237.70" x2="305.50" y2="237.70" stroke="#666" stroke-width="0.7" />
<text x="302.00" y="238.99" font-size="3.6" fill="#3a3a3a" text-anchor="end">20</text>
<line x1="303.00" y1="245.95" x2="305.50" y2="245.95" stroke="#666" stroke-width="0.7" />
<text x="302.00" y="247.25" font-size="3.6" fill="#3a3a3a" text-anchor="end">10</text>
<line x1="303.00" y1="252.77" x2="305.50" y2="252.77" stroke="#666" stroke-width="0.7" />
<text x="302.00" y="254.07" font-size="3.6" fill="#3a3a3a" text-anchor="end">5</text>
<line x1="303.00" y1="265.57" x2="305.50" y2="265.57" stroke="#666" stroke-width="0.7" />
<text x="302.00" y="266.86" font-size="3.6" fill="#3a3a3a" text-anchor="end">1</text>
<line x1="304.20" y1="260.45" x2="306.40" y2="260.45" stroke="#555" stroke-width="0.4" />
<line x1="304.20" y1="257.20" x2="306.40" y2="257.20" stroke="#555" stroke-width="0.4" />
<line x1="304.20" y1="254.76" x2="306.40" y2="254.76" stroke="#555" stroke-width="0.4" />
<line x1="304.20" y1="251.08" x2="306.40" y2="251.08" stroke="#555" stroke-width="0.4" />
<line x1="304.20" y1="249.60" x2="306.40" y2="249.60" stroke="#555" stroke-width="0.4" />
<line x1="304.20" y1="248.27" x2="306.40" y2="248.27" stroke="#555" stroke-width="0.4" />
<line x1="304.20" y1="247.07" x2="306.40" y2="247.07" stroke="#555" stroke-width="0.4" />
<line x1="304.20" y1="244.92" x2="306.40" y2="244.92" stroke="#555" stroke-width="0.4" />
<line x1="304.20" y1="243.95" x2="306.40" y2="243.95" stroke="#555" stroke-width="0.4" />
<line x1="304.20" y1="243.04" x2="306.40" y2="243.04" stroke="#555" stroke-width="0.4" />
<line x1="304.20" y1="242.18" x2="306.40" y2="242.18" stroke="#555" stroke-width="0.4" />
<line x1="304.20" y1="241.35" x2="306.40" y2="241.35" stroke="#555" stroke-width="0.4" />
<line x1="304.20" y1="240.57" x2="306.40" y2="240.57" stroke="#555" stroke-width="0.4" />
<line x1="304.20" y1="239.81" x2="306.40" y2="239.81" stroke="#555" stroke-width="0.4" />
<line x1="304.20" y1="239.08" x2="306.40" y2="239.08" stroke="#555" stroke-width="0.4" />
<line x1="304.20" y1="238.38" x2="306.40" y2="238.38" stroke="#555" stroke-width="0.4" />
<line x1="304.20" y1="237.04" x2="306.40" y2="237.04" stroke="#555" stroke-width="0.4" />
<line x1="304.20" y1="236.39" x2="306.40" y2="236.39" stroke="#555" stroke-width="0.4" />
<line x1="304.20" y1="235.77" x2="306.40" y2="235.77" stroke="#555" stroke-width="0.4" />
<line x1="304.20" y1="235.16" x2="306.40" y2="235.16" stroke="#555" stroke-width="0.4" />
<line x1="304.20" y1="234.56" x2="306.40" y2="234.56" stroke="#555" stroke-width="0.4" />
<line x1="304.20" y1="233.98" x2="306.40" y2="233.98" stroke="#555" stroke-width="0.4" />
<line x1="304.20" y1="233.40" x2="306.40" y2="233.40" stroke="#555" stroke-width="0.4" />
<line x1="304.20" y1="232.84" x2="306.40" y2="232.84" stroke="#555" stroke-width="0.4" />
<line x1="304.20" y1="232.29" x2="306.40" y2="232.29" stroke="#555" stroke-width="0.4" />
<line x1="304.20" y1="231.21" x2="306.40" y2="231.21" stroke="#555" stroke-width="0.4" />
<line x1="304.20" y1="230.68" x2="306.40" y2="230.68" stroke="#555" stroke-width="0.4" />
<line x1="304.20" y1="230.16" x2="306.40" y2="230.16" stroke="#555" stroke-width="0.4" />
<line x1="304.20" y1="229.64" x2="306.40" y2="229.64" stroke="#555" stroke-width="0.4" />
<line x1="304.20" y1="229.13" x2="306.40" y2="229.13" stroke="#555" stroke-width="0.4" />
<line x1="304.20" y1="228.63" x2="306.40" y2="228.63" stroke="#555" stroke-width="0.4" />
<line x1="304.20" y1="228.13" x2="306.40" y2="228.13" stroke="#555" stroke-width="0.4" />
<line x1="304.20" y1="227.63" x2="306.40" y2="227.63" stroke="#555" stroke-width="0.4" />
<line x1="304.20" y1="227.14" x2="306.40" y2="227.14" stroke="#555" stroke-width="0.4" />
<line x1="304.20" y1="226.66" x2="306.40" y2="226.66" stroke="#555" stroke-width="0.4" />
<line x1="304.20" y1="226.17" x2="306.40" y2="226.17" stroke="#555" stroke-width="0.4" />
<line x1="304.20" y1="225.69" x2="306.40" y2="225.69" stroke="#555" stroke-width="0.4" />
<line x1="304.20" y1="225.21" x2="306.40" y2="225.21" stroke="#555" stroke-width="0.4" />
<line x1="304.20" y1="224.73" x2="306.40" y2="224.73" stroke="#555" stroke-width="0.4" />
<line x1="304.20" y1="224.26" x2="306.40" y2="224.26" stroke="#555" stroke-width="0.4" />
<line x1="304.20" y1="223.79" x2="306.40" y2="223.79" stroke="#555" stroke-width="0.4" />
<line x1="304.20" y1="223.31" x2="306.40" y2="223.31" stroke="#555" stroke-width="0.4" />
<line x1="304.20" y1="222.84" x2="306.40" y2="222.84" stroke="#555" stroke-width="0.4" />
<line x1="304.20" y1="222.37" x2="306.40" y2="222.37" stroke="#555" stroke-width="0.4" />
<line x1="304.20" y1="221.43" x2="306.40" y2="221.43" stroke="#555" stroke-width="0.4" />
<line x1="304.20" y1="220.96" x2="306.40" y2="220.96" stroke="#555" stroke-width="0.4" />
<line x1="304.20" y1="220.49" x2="306.40" y2="220.49" stroke="#555" stroke-width="0.4" />
<line x1="304.20" y1="220.01" x2="306.40" y2="220.01" stroke="#555" stroke-width="0.4" />
<line x1="304.20" y1="219.54" x2="306.40" y2="219.54" stroke="#555" stroke-width="0.4" />
<line x1="304.20" y1="219.07" x2="306.40" y2="219.07" stroke="#555" stroke-width="0.4" />
<line x1="304.20" y1="218.59" x2="306.40" y2="218.59" stroke="#555" stroke-width="0.4" />
<line x1="304.20" y1="218.11" x2="306.40" y2="218.11" stroke="#555" stroke-width="0.4" />
<line x1="304.20" y1="217.63" x2="306.40" y2="217.63" stroke="#555" stroke-width="0.4" />
<line x1="304.20" y1="217.14" x2="306.40" y2="217.14" stroke="#555" stroke-width="0.4" />
<line x1="304.20" y1="216.66" x2="306.40" y2="216.66" stroke="#555" stroke-width="0.4" />
<line x1="304.20" y1="216.17" x2="306.40" y2="216.17" stroke="#555" stroke-width="0.4" />
<line x1="304.20" y1="215.67" x2="306.40" y2="215.67" stroke="#555" stroke-width="0.4" />
<line x1="304.20" y1="215.17" x2="306.40" y2="215.17" stroke="#555" stroke-width="0.4" />
<line x1="304.20" y1="214.67" x2="306.40" y2="214.67" stroke="#555" stroke-width="0.4" />
<line x1="304.20" y1="214.16" x2="306.40" y2="214.16" stroke="#555" stroke-width="0.4" />
<line x1="304.20" y1="213.64" x2="306.40" y2="213.64" stroke="#555" stroke-width="0.4" />
<line x1="304.20" y1="213.12" x2="306.40" y2="213.12" stroke="#555" stroke-width="0.4" />
<line x1="304.20" y1="212.59" x2="306.40" y2="212.59" stroke="#555" stroke-width="0.4" />
<line x1="304.20" y1="211.51" x2="306.40" y2="211.51" stroke="#555" stroke-width="0.4" />
<line x1="304.20" y1="210.96" x2="306.40" y2="210.96" stroke="#555" stroke-width="0.4" />
<line x1="304.20" y1="210.40" x2="306.40" y2="210.40" stroke="#555" stroke-width="0.4" />
<line x1="304.20" y1="209.82" x2="306.40" y2="209.82" stroke="#555" stroke-width="0.4" />
<line x1="304.20" y1="209.24" x2="306.40" y2="209.24" stroke="#555" stroke-width="0.4" />
<line x1="304.20" y1="208.64" x2="306.40" y2="208.64" stroke="#555" stroke-width="0.4" />
<line x1="304.20" y1="208.03" x2="306.40" y2="208.03" stroke="#555" stroke-width="0.4" />
<line x1="304.20" y1="207.41" x2="306.40" y2="207.41" stroke="#555" stroke-width="0.4" />
<line x1="304.20" y1="206.76" x2="306.40" y2="206.76" stroke="#555" stroke-width="0.4" />
<line x1="304.20" y1="205.42" x2="306.40" y2="205.42" stroke="#555" stroke-width="0.4" />
<line x1="304.20" y1="204.72" x2="306.40" y2="204.72" stroke="#555" stroke-width="0.4" />
<line x1="304.20" y1="203.99" x2="306.40" y2="203.99" stroke="#555" stroke-width="0.4" />
<line x1="304.20" y1="203.23" x2="306.40" y2="203.23" stroke="#555" stroke-width="0.4" />
<line x1="304.20" y1="202.45" x2="306.40" y2="202.45" stroke="#555" stroke-width="0.4" />
<line x1="304.20" y1="201.62" x2="306.40" y2="201.62" stroke="#555" stroke-width="0.4" />
<line x1="304.20" y1="200.76" x2="306.40" y2="200.76" stroke="#555" stroke-width="0.4" />
<line x1="304.20" y1="199.85" x2="306.40" y2="199.85" stroke="#555" stroke-width="0.4" />
<line x1="304.20" y1="198.88" x2="306.40" y2="198.88" stroke="#555" stroke-width="0.4" />
<line x1="304.20" y1="196.73" x2="306.40" y2="196.73" stroke="#555" stroke-width="0.4" />
<line x1="304.20" y1="195.53" x2="306.40" y2="195.53" stroke="#555" stroke-width="0.4" />
<line x1="304.20" y1="194.20" x2="306.40" y2="194.20" stroke="#555" stroke-width="0.4" />
<line x1="304.20" y1="192.72" x2="306.40" y2="192.72" stroke="#555" stroke-width="0.4" />
<line x1="304.20" y1="189.04" x2="306.40" y2="189.04" stroke="#555" stroke-width="0.4" />
<line x1="304.20" y1="186.60" x2="306.40" y2="186.60" stroke="#555" stroke-width="0.4" />
<line x1="304.20" y1="183.35" x2="306.40" y2="183.35" stroke="#555" stroke-width="0.4" />
<line x1="305.50" y1="190.08" x2="305.50" y2="253.72" stroke="#8a8a8a" stroke-width="1.0" />
<line x1="305.70" y1="258.50" x2="434.40" y2="184.20" stroke="#f07070" stroke-width="0.8" />
<rect x="313.30" y="255.00" width="2.80" height="2.80" fill="#1010c8" stroke="#444" stroke-width="0.35" stroke-opacity="0.6"/>
<rect x="321.60" y="244.50" width="2.80" height="2.80" fill="#1060e0" stroke="#444" stroke-width="0.35" stroke-opacity="0.6"/>
<rect x="331.90" y="238.70" width="2.80" height="2.80" fill="#e0d010" stroke="#444" stroke-width="0.35" stroke-opacity="0.6"/>
<rect x="349.10" y="234.00" width="2.80" height="2.80" fill="#20c870" stroke="#444" stroke-width="0.35" stroke-opacity="0.6"/>
<rect x="353.80" y="230.40" width="2.80" height="2.80" fill="#e07010" stroke="#444" stroke-width="0.35" stroke-opacity="0.6"/>
<rect x="353.80" y="226.90" width="2.80" height="2.80" fill="#e07010" stroke="#444" stroke-width="0.35" stroke-opacity="0.6"/>
<rect x="355.90" y="223.80" width="2.80" height="2.80" fill="#cc1010" stroke="#444" stroke-width="0.35" stroke-opacity="0.6"/>
<rect x="365.90" y="220.60" width="2.80" height="2.80" fill="#1040e0" stroke="#444" stroke-width="0.35" stroke-opacity="0.6"/>
<rect x="379.90" y="217.40" width="2.80" height="2.80" fill="#20c820" stroke="#444" stroke-width="0.35" stroke-opacity="0.6"/>
<rect x="379.90" y="214.00" width="2.80" height="2.80" fill="#20c820" stroke="#444" stroke-width="0.35" stroke-opacity="0.6"/>
<rect x="384.70" y="210.60" width="2.80" height="2.80" fill="#1010c8" stroke="#444" stroke-width="0.35" stroke-opacity="0.6"/>
<rect x="391.10" y="206.90" width="2.80" height="2.80" fill="#90d010" stroke="#444" stroke-width="0.35" stroke-opacity="0.6"/>
<rect x="409.80" y="202.40" width="2.80" height="2.80" fill="#20c820" stroke="#444" stroke-width="0.35" stroke-opacity="0.6"/>
<rect x="409.80" y="196.60" width="2.80" height="2.80" fill="#90d010" stroke="#444" stroke-width="0.35" stroke-opacity="0.6"/>
<rect x="415.80" y="185.90" width="2.80" height="2.80" fill="#20c820" stroke="#444" stroke-width="0.35" stroke-opacity="0.6"/>
<circle cx="370.0" cy="221.0" r="1.9" fill="#c06060" stroke="#884040" stroke-width="0.4"/>
<text x="344.00" y="297.60" font-size="3.6" fill="#000" textLength="52.60" lengthAdjust="spacingAndGlyphs">Externally Studentized Residuals</text>
<text transform="translate(284.80,219.00) rotate(-90)" x="0" y="1.51" font-size="4.2" fill="#000" text-anchor="middle" textLength="33.00" lengthAdjust="spacingAndGlyphs">Normal % Probability</text>
<text x="468.40" y="162.12" font-size="3.94" fill="#111" stroke="#111" stroke-width="0.12" font-weight="bold" textLength="4.50" lengthAdjust="spacingAndGlyphs">EE</text>
<text x="465.00" y="162.70" font-size="2.5" fill="#888" stroke="#888" stroke-width="0.12">a</text>
<text x="465.00" y="171.50" font-size="2.5" fill="#999" stroke="#999" stroke-width="0.12">c</text>
<text x="465.00" y="176.10" font-size="2.5" fill="#999" stroke="#999" stroke-width="0.12">c</text>
<text x="465.00" y="180.60" font-size="2.5" fill="#55f" stroke="#55f" stroke-width="0.12">a</text>
<text x="468.40" y="175.76" font-size="4.62" fill="#111" stroke="#111" stroke-width="0.12" textLength="48.30" lengthAdjust="spacingAndGlyphs">Color points by value of</text>
<text x="468.40" y="182.68" font-size="4.38" fill="#111" stroke="#111" stroke-width="0.12" textLength="27.50" lengthAdjust="spacingAndGlyphs">Drug release :</text>
<text x="468.40" y="189.63" font-size="4.24" fill="#2020c0" stroke="#2020c0" stroke-width="0.12" textLength="10.60" lengthAdjust="spacingAndGlyphs">40.76</text>
<rect x="480.80" y="184.80" width="16.80" height="6.20" fill="url(#cbar)" stroke="#111" stroke-width="0.7"/>
<text x="499.30" y="189.64" font-size="4.28" fill="#c02020" stroke="#c02020" stroke-width="0.12" textLength="10.70" lengthAdjust="spacingAndGlyphs">78.74</text>
<text x="592.90" y="162.09" font-size="4.41" fill="#000" textLength="38.70" lengthAdjust="spacingAndGlyphs">Predicted vs. Actual</text>
<text x="679.50" y="168.10" font-size="8.6" fill="#111" font-weight="bold" style='font-family:"Liberation Serif", serif'>F</text>
<line x1="547.50" y1="169.60" x2="550.00" y2="169.60" stroke="#666" stroke-width="0.7" />
<text x="546.50" y="170.82" font-size="3.4" fill="#3a3a3a" text-anchor="end">90</text>
<line x1="547.50" y1="190.52" x2="550.00" y2="190.52" stroke="#666" stroke-width="0.7" />
<text x="546.50" y="191.74" font-size="3.4" fill="#3a3a3a" text-anchor="end">85</text>
<line x1="547.50" y1="211.44" x2="550.00" y2="211.44" stroke="#666" stroke-width="0.7" />
<text x="546.50" y="212.66" font-size="3.4" fill="#3a3a3a" text-anchor="end">80</text>
<line x1="547.50" y1="232.36" x2="550.00" y2="232.36" stroke="#666" stroke-width="0.7" />
<text x="546.50" y="233.58" font-size="3.4" fill="#3a3a3a" text-anchor="end">75</text>
<line x1="547.50" y1="253.28" x2="550.00" y2="253.28" stroke="#666" stroke-width="0.7" />
<text x="546.50" y="254.50" font-size="3.4" fill="#3a3a3a" text-anchor="end">70</text>
<line x1="547.50" y1="274.20" x2="550.00" y2="274.20" stroke="#666" stroke-width="0.7" />
<text x="546.50" y="275.42" font-size="3.4" fill="#3a3a3a" text-anchor="end">65</text>
<line x1="556.00" y1="280.50" x2="556.00" y2="283.00" stroke="#666" stroke-width="0.7" />
<text x="556.00" y="287.22" font-size="3.4" fill="#3a3a3a" text-anchor="middle">65</text>
<line x1="578.54" y1="280.50" x2="578.54" y2="283.00" stroke="#666" stroke-width="0.7" />
<text x="578.54" y="287.22" font-size="3.4" fill="#3a3a3a" text-anchor="middle">70</text>
<line x1="601.08" y1="280.50" x2="601.08" y2="283.00" stroke="#666" stroke-width="0.7" />
<text x="601.08" y="287.22" font-size="3.4" fill="#3a3a3a" text-anchor="middle">75</text>
<line x1="623.62" y1="280.50" x2="623.62" y2="283.00" stroke="#666" stroke-width="0.7" />
<text x="623.62" y="287.22" font-size="3.4" fill="#3a3a3a" text-anchor="middle">80</text>
<line x1="646.16" y1="280.50" x2="646.16" y2="283.00" stroke="#666" stroke-width="0.7" />
<text x="646.16" y="287.22" font-size="3.4" fill="#3a3a3a" text-anchor="middle">85</text>
<line x1="668.70" y1="280.50" x2="668.70" y2="283.00" stroke="#666" stroke-width="0.7" />
<text x="668.70" y="287.22" font-size="3.4" fill="#3a3a3a" text-anchor="middle">90</text>
<line x1="550.00" y1="163.70" x2="675.00" y2="163.70" stroke="#c8c8c8" stroke-width="1.2" />
<line x1="675.00" y1="163.70" x2="675.00" y2="280.50" stroke="#c8c8c8" stroke-width="1.5" />
<line x1="550.00" y1="163.20" x2="550.00" y2="281.10" stroke="#bdbdbd" stroke-width="1.8" />
<line x1="549.40" y1="280.50" x2="675.50" y2="280.50" stroke="#aaaaaa" stroke-width="1.5" />
<line x1="556.00" y1="274.50" x2="668.70" y2="169.60" stroke="#606060" stroke-width="0.7" />
<rect x="565.50" y="260.60" width="2.40" height="2.40" fill="#1010c8" stroke="#444" stroke-width="0.35" stroke-opacity="0.6"/>
<rect x="580.50" y="261.10" width="2.40" height="2.40" fill="#1010c8" stroke="#444" stroke-width="0.35" stroke-opacity="0.6"/>
<rect x="573.40" y="245.20" width="2.40" height="2.40" fill="#1010c8" stroke="#444" stroke-width="0.35" stroke-opacity="0.6"/>
<rect x="595.30" y="234.20" width="2.40" height="2.40" fill="#20c820" stroke="#444" stroke-width="0.35" stroke-opacity="0.6"/>
<rect x="610.30" y="218.80" width="2.40" height="2.40" fill="#90d010" stroke="#444" stroke-width="0.35" stroke-opacity="0.6"/>
<rect x="614.40" y="218.10" width="2.40" height="2.40" fill="#20c820" stroke="#444" stroke-width="0.35" stroke-opacity="0.6"/>
<rect x="616.60" y="218.10" width="2.40" height="2.40" fill="#20c820" stroke="#444" stroke-width="0.35" stroke-opacity="0.6"/>
<rect x="623.30" y="217.90" width="2.40" height="2.40" fill="#20c820" stroke="#444" stroke-width="0.35" stroke-opacity="0.6"/>
<rect x="641.00" y="202.40" width="2.40" height="2.40" fill="#80e040" stroke="#444" stroke-width="0.35" stroke-opacity="0.6"/>
<rect x="632.10" y="191.20" width="2.40" height="2.40" fill="#e0d010" stroke="#444" stroke-width="0.35" stroke-opacity="0.6"/>
<rect x="642.10" y="191.40" width="2.40" height="2.40" fill="#d06020" stroke="#444" stroke-width="0.35" stroke-opacity="0.6"/>
<rect x="657.80" y="175.50" width="2.40" height="2.40" fill="#cc1010" stroke="#444" stroke-width="0.35" stroke-opacity="0.6"/>
<rect x="661.40" y="175.10" width="2.40" height="2.40" fill="#e07010" stroke="#444" stroke-width="0.35" stroke-opacity="0.6"/>
<text x="607.00" y="296.23" font-size="3.42" fill="#000" textLength="9.50" lengthAdjust="spacingAndGlyphs">Actual</text>
<text transform="translate(528.50,222.00) rotate(-90)" x="0" y="1.51" font-size="4.2" fill="#000" text-anchor="middle" textLength="14.10" lengthAdjust="spacingAndGlyphs">Predicted</text>
<text x="1.80" y="307.73" font-size="4.25" fill="#111" stroke="#111" stroke-width="0.12" font-weight="bold" textLength="47.50" lengthAdjust="spacingAndGlyphs">Response: Particle size</text>
<text x="1.80" y="314.49" font-size="4.43" fill="#222" stroke="#222" stroke-width="0.12" textLength="42.60" lengthAdjust="spacingAndGlyphs">Color points by value:</text>
<text x="1.80" y="320.54" font-size="4.27" fill="#222" stroke="#222" stroke-width="0.12" textLength="24.20" lengthAdjust="spacingAndGlyphs">Particle size:</text>
<text x="1.80" y="327.41" font-size="4.48" fill="#2020c0" stroke="#2020c0" stroke-width="0.12" font-weight="bold" textLength="11.20" lengthAdjust="spacingAndGlyphs">298.3</text>
<rect x="16.80" y="323.00" width="15.90" height="5.90" fill="url(#cbar)" stroke="#111" stroke-width="0.7"/>
<text x="34.50" y="327.28" font-size="4.12" fill="#c02020" stroke="#c02020" stroke-width="0.12" font-weight="bold" textLength="12.60" lengthAdjust="spacingAndGlyphs">1019.6</text>
<text x="118.90" y="307.81" font-size="4.19" fill="#000" stroke="#000" stroke-width="0.12" textLength="33.80" lengthAdjust="spacingAndGlyphs">Residuals vs. Run</text>
<text x="206.00" y="318.60" font-size="8.6" fill="#111" font-weight="bold" style='font-family:"Liberation Serif", serif'>G</text>
<line x1="69.00" y1="315.40" x2="71.50" y2="315.40" stroke="#666" stroke-width="0.7" />
<text x="68.00" y="316.70" font-size="3.6" fill="#3a3a3a" stroke="#3a3a3a" stroke-width="0.12" text-anchor="end">8.00</text>
<line x1="69.00" y1="328.90" x2="71.50" y2="328.90" stroke="#666" stroke-width="0.7" />
<text x="68.00" y="330.20" font-size="3.6" fill="#3a3a3a" stroke="#3a3a3a" stroke-width="0.12" text-anchor="end">6.00</text>
<line x1="69.00" y1="342.40" x2="71.50" y2="342.40" stroke="#666" stroke-width="0.7" />
<text x="68.00" y="343.70" font-size="3.6" fill="#3a3a3a" stroke="#3a3a3a" stroke-width="0.12" text-anchor="end">4.00</text>
<line x1="69.00" y1="355.90" x2="71.50" y2="355.90" stroke="#666" stroke-width="0.7" />
<text x="68.00" y="357.20" font-size="3.6" fill="#3a3a3a" stroke="#3a3a3a" stroke-width="0.12" text-anchor="end">2.00</text>
<line x1="69.00" y1="369.40" x2="71.50" y2="369.40" stroke="#666" stroke-width="0.7" />
<text x="68.00" y="370.70" font-size="3.6" fill="#3a3a3a" stroke="#3a3a3a" stroke-width="0.12" text-anchor="end">0.00</text>
<line x1="69.00" y1="382.90" x2="71.50" y2="382.90" stroke="#666" stroke-width="0.7" />
<text x="68.00" y="384.20" font-size="3.6" fill="#3a3a3a" stroke="#3a3a3a" stroke-width="0.12" text-anchor="end">-2.00</text>
<line x1="69.00" y1="396.40" x2="71.50" y2="396.40" stroke="#666" stroke-width="0.7" />
<text x="68.00" y="397.70" font-size="3.6" fill="#3a3a3a" stroke="#3a3a3a" stroke-width="0.12" text-anchor="end">-4.00</text>
<line x1="69.00" y1="409.90" x2="71.50" y2="409.90" stroke="#666" stroke-width="0.7" />
<text x="68.00" y="411.20" font-size="3.6" fill="#3a3a3a" stroke="#3a3a3a" stroke-width="0.12" text-anchor="end">-6.00</text>
<line x1="69.00" y1="423.40" x2="71.50" y2="423.40" stroke="#666" stroke-width="0.7" />
<text x="68.00" y="424.70" font-size="3.6" fill="#3a3a3a" stroke="#3a3a3a" stroke-width="0.12" text-anchor="end">-8.00</text>
<line x1="78.30" y1="429.20" x2="78.30" y2="431.70" stroke="#666" stroke-width="0.7" />
<text x="78.30" y="436.70" font-size="3.6" fill="#3a3a3a" stroke="#3a3a3a" stroke-width="0.12" text-anchor="middle">1</text>
<line x1="86.54" y1="429.20" x2="86.54" y2="430.70" stroke="#666" stroke-width="0.6" />
<line x1="94.78" y1="429.20" x2="94.78" y2="431.70" stroke="#666" stroke-width="0.7" />
<text x="94.78" y="436.70" font-size="3.6" fill="#3a3a3a" stroke="#3a3a3a" stroke-width="0.12" text-anchor="middle">3</text>
<line x1="103.02" y1="429.20" x2="103.02" y2="430.70" stroke="#666" stroke-width="0.6" />
<line x1="111.26" y1="429.20" x2="111.26" y2="431.70" stroke="#666" stroke-width="0.7" />
<text x="111.26" y="436.70" font-size="3.6" fill="#3a3a3a" stroke="#3a3a3a" stroke-width="0.12" text-anchor="middle">5</text>
<line x1="119.50" y1="429.20" x2="119.50" y2="430.70" stroke="#666" stroke-width="0.6" />
<line x1="127.74" y1="429.20" x2="127.74" y2="431.70" stroke="#666" stroke-width="0.7" />
<text x="127.74" y="436.70" font-size="3.6" fill="#3a3a3a" stroke="#3a3a3a" stroke-width="0.12" text-anchor="middle">7</text>
<line x1="135.98" y1="429.20" x2="135.98" y2="430.70" stroke="#666" stroke-width="0.6" />
<line x1="144.22" y1="429.20" x2="144.22" y2="431.70" stroke="#666" stroke-width="0.7" />
<text x="144.22" y="436.70" font-size="3.6" fill="#3a3a3a" stroke="#3a3a3a" stroke-width="0.12" text-anchor="middle">9</text>
<line x1="152.46" y1="429.20" x2="152.46" y2="430.70" stroke="#666" stroke-width="0.6" />
<line x1="160.70" y1="429.20" x2="160.70" y2="431.70" stroke="#666" stroke-width="0.7" />
<text x="160.70" y="436.70" font-size="3.6" fill="#3a3a3a" stroke="#3a3a3a" stroke-width="0.12" text-anchor="middle">11</text>
<line x1="168.94" y1="429.20" x2="168.94" y2="430.70" stroke="#666" stroke-width="0.6" />
<line x1="177.18" y1="429.20" x2="177.18" y2="431.70" stroke="#666" stroke-width="0.7" />
<text x="177.18" y="436.70" font-size="3.6" fill="#3a3a3a" stroke="#3a3a3a" stroke-width="0.12" text-anchor="middle">13</text>
<line x1="185.42" y1="429.20" x2="185.42" y2="430.70" stroke="#666" stroke-width="0.6" />
<line x1="193.66" y1="429.20" x2="193.66" y2="431.70" stroke="#666" stroke-width="0.7" />
<text x="193.66" y="436.70" font-size="3.6" fill="#3a3a3a" stroke="#3a3a3a" stroke-width="0.12" text-anchor="middle">15</text>
<line x1="71.50" y1="309.50" x2="200.50" y2="309.50" stroke="#cacaca" stroke-width="1.1" />
<line x1="200.50" y1="309.50" x2="200.50" y2="429.20" stroke="#a8a8a8" stroke-width="1.2" />
<line x1="71.50" y1="309.00" x2="71.50" y2="429.80" stroke="#9a9a9a" stroke-width="1.1" />
<line x1="70.90" y1="429.20" x2="201.00" y2="429.20" stroke="#b0b0b0" stroke-width="1.3" />
<line x1="71.50" y1="327.50" x2="200.50" y2="327.50" stroke="#e06a6a" stroke-width="1.0" />
<text x="73.00" y="326.29" font-size="2.74" fill="#333" textLength="9.90" lengthAdjust="spacingAndGlyphs">6.20407</text>
<line x1="71.50" y1="411.50" x2="200.50" y2="411.50" stroke="#e06a6a" stroke-width="1.0" />
<text x="73.00" y="410.22" font-size="2.56" fill="#333" textLength="10.10" lengthAdjust="spacingAndGlyphs">-6.20407</text>
<line x1="71.50" y1="369.50" x2="200.50" y2="369.50" stroke="#404040" stroke-width="1.1" />
<text x="73.50" y="367.91" font-size="2.8" fill="#555">0</text>
<polyline points="78.30,346.40 86.54,377.30 94.78,374.70 103.02,362.00 111.26,366.10 119.50,366.10 127.74,364.20 135.98,363.90 144.22,369.70 152.46,369.30 160.70,377.30 168.94,377.30 177.18,392.90 185.42,374.80 193.66,361.70" fill="none" stroke="#555" stroke-width="0.6"/>
<rect x="76.90" y="345.00" width="2.80" height="2.80" fill="#cc1010" stroke="#444" stroke-width="0.35" stroke-opacity="0.6"/>
<rect x="85.14" y="375.90" width="2.80" height="2.80" fill="#2090d0" stroke="#444" stroke-width="0.35" stroke-opacity="0.6"/>
<rect x="93.38" y="373.30" width="2.80" height="2.80" fill="#d84a10" stroke="#444" stroke-width="0.35" stroke-opacity="0.6"/>
<rect x="101.62" y="360.60" width="2.80" height="2.80" fill="#1010c8" stroke="#444" stroke-width="0.35" stroke-opacity="0.6"/>
<rect x="109.86" y="364.70" width="2.80" height="2.80" fill="#2090d0" stroke="#444" stroke-width="0.35" stroke-opacity="0.6"/>
<rect x="118.10" y="364.70" width="2.80" height="2.80" fill="#2090d0" stroke="#444" stroke-width="0.35" stroke-opacity="0.6"/>
<rect x="126.34" y="362.80" width="2.80" height="2.80" fill="#1010c8" stroke="#444" stroke-width="0.35" stroke-opacity="0.6"/>
<rect x="134.58" y="362.50" width="2.80" height="2.80" fill="#2090d0" stroke="#444" stroke-width="0.35" stroke-opacity="0.6"/>
<rect x="142.82" y="368.30" width="2.80" height="2.80" fill="#d84a10" stroke="#444" stroke-width="0.35" stroke-opacity="0.6"/>
<rect x="151.06" y="367.90" width="2.80" height="2.80" fill="#1010c8" stroke="#444" stroke-width="0.35" stroke-opacity="0.6"/>
<rect x="159.30" y="375.90" width="2.80" height="2.80" fill="#d84a10" stroke="#444" stroke-width="0.35" stroke-opacity="0.6"/>
<rect x="167.54" y="375.90" width="2.80" height="2.80" fill="#2090d0" stroke="#444" stroke-width="0.35" stroke-opacity="0.6"/>
<rect x="175.78" y="391.50" width="2.80" height="2.80" fill="#1010c8" stroke="#444" stroke-width="0.35" stroke-opacity="0.6"/>
<rect x="184.02" y="373.40" width="2.80" height="2.80" fill="#2090d0" stroke="#444" stroke-width="0.35" stroke-opacity="0.6"/>
<rect x="192.26" y="360.30" width="2.80" height="2.80" fill="#2090d0" stroke="#444" stroke-width="0.35" stroke-opacity="0.6"/>
<text x="124.80" y="445.26" font-size="3.78" fill="#000" textLength="21.40" lengthAdjust="spacingAndGlyphs">Run Number</text>
<text transform="translate(50.50,364.90) rotate(-90)" x="0" y="1.51" font-size="4.2" fill="#000" text-anchor="middle" textLength="49.40" lengthAdjust="spacingAndGlyphs">Externally Studentized Residuals</text>
<text x="237.20" y="302.91" font-size="3.91" fill="#111" stroke="#111" stroke-width="0.12" font-weight="bold" textLength="44.80" lengthAdjust="spacingAndGlyphs">Response: Drug release</text>
<text x="237.20" y="309.08" font-size="4.1" fill="#222" stroke="#222" stroke-width="0.12" textLength="39.40" lengthAdjust="spacingAndGlyphs">Color points by value:</text>
<text x="237.20" y="315.01" font-size="3.92" fill="#222" stroke="#222" stroke-width="0.12" textLength="24.60" lengthAdjust="spacingAndGlyphs">Drug release :</text>
<text x="237.20" y="320.61" font-size="3.92" fill="#2020c0" stroke="#2020c0" stroke-width="0.12" font-weight="bold" textLength="9.80" lengthAdjust="spacingAndGlyphs">40.76</text>
<rect x="248.20" y="316.80" width="14.50" height="4.90" fill="url(#cbar)" stroke="#111" stroke-width="0.7"/>
<text x="264.50" y="320.57" font-size="3.8" fill="#c02020" stroke="#c02020" stroke-width="0.12" font-weight="bold" textLength="9.50" lengthAdjust="spacingAndGlyphs">78.74</text>
<text x="285.00" y="304.94" font-size="4.0" fill="#aaa" stroke="#aaa" stroke-width="0.12">.</text>
<text x="352.30" y="307.48" font-size="4.12" fill="#000" textLength="33.20" lengthAdjust="spacingAndGlyphs">Residuals vs. Run</text>
<text x="446.30" y="318.10" font-size="9.2" fill="#111" font-weight="bold" style='font-family:"Liberation Serif", serif'>H</text>
<line x1="303.50" y1="315.30" x2="306.00" y2="315.30" stroke="#666" stroke-width="0.7" />
<text x="302.50" y="316.60" font-size="3.6" fill="#3a3a3a" text-anchor="end">4.00</text>
<line x1="303.50" y1="342.30" x2="306.00" y2="342.30" stroke="#666" stroke-width="0.7" />
<text x="302.50" y="343.60" font-size="3.6" fill="#3a3a3a" text-anchor="end">2.00</text>
<line x1="303.50" y1="369.30" x2="306.00" y2="369.30" stroke="#666" stroke-width="0.7" />
<text x="302.50" y="370.60" font-size="3.6" fill="#3a3a3a" text-anchor="end">0.00</text>
<line x1="303.50" y1="396.30" x2="306.00" y2="396.30" stroke="#666" stroke-width="0.7" />
<text x="302.50" y="397.60" font-size="3.6" fill="#3a3a3a" text-anchor="end">-2.00</text>
<line x1="303.50" y1="423.30" x2="306.00" y2="423.30" stroke="#666" stroke-width="0.7" />
<text x="302.50" y="424.60" font-size="3.6" fill="#3a3a3a" text-anchor="end">-4.00</text>
<line x1="312.10" y1="429.10" x2="312.10" y2="431.60" stroke="#666" stroke-width="0.7" />
<text x="312.10" y="436.60" font-size="3.6" fill="#3a3a3a" text-anchor="middle">1</text>
<line x1="320.38" y1="429.10" x2="320.38" y2="430.60" stroke="#666" stroke-width="0.6" />
<line x1="328.66" y1="429.10" x2="328.66" y2="431.60" stroke="#666" stroke-width="0.7" />
<text x="328.66" y="436.60" font-size="3.6" fill="#3a3a3a" text-anchor="middle">3</text>
<line x1="336.94" y1="429.10" x2="336.94" y2="430.60" stroke="#666" stroke-width="0.6" />
<line x1="345.22" y1="429.10" x2="345.22" y2="431.60" stroke="#666" stroke-width="0.7" />
<text x="345.22" y="436.60" font-size="3.6" fill="#3a3a3a" text-anchor="middle">5</text>
<line x1="353.50" y1="429.10" x2="353.50" y2="430.60" stroke="#666" stroke-width="0.6" />
<line x1="361.78" y1="429.10" x2="361.78" y2="431.60" stroke="#666" stroke-width="0.7" />
<text x="361.78" y="436.60" font-size="3.6" fill="#3a3a3a" text-anchor="middle">7</text>
<line x1="370.06" y1="429.10" x2="370.06" y2="430.60" stroke="#666" stroke-width="0.6" />
<line x1="378.34" y1="429.10" x2="378.34" y2="431.60" stroke="#666" stroke-width="0.7" />
<text x="378.34" y="436.60" font-size="3.6" fill="#3a3a3a" text-anchor="middle">9</text>
<line x1="386.62" y1="429.10" x2="386.62" y2="430.60" stroke="#666" stroke-width="0.6" />
<line x1="394.90" y1="429.10" x2="394.90" y2="431.60" stroke="#666" stroke-width="0.7" />
<text x="394.90" y="436.60" font-size="3.6" fill="#3a3a3a" text-anchor="middle">11</text>
<line x1="403.18" y1="429.10" x2="403.18" y2="430.60" stroke="#666" stroke-width="0.6" />
<line x1="411.46" y1="429.10" x2="411.46" y2="431.60" stroke="#666" stroke-width="0.7" />
<text x="411.46" y="436.60" font-size="3.6" fill="#3a3a3a" text-anchor="middle">13</text>
<line x1="419.74" y1="429.10" x2="419.74" y2="430.60" stroke="#666" stroke-width="0.6" />
<line x1="428.02" y1="429.10" x2="428.02" y2="431.60" stroke="#666" stroke-width="0.7" />
<text x="428.02" y="436.60" font-size="3.6" fill="#3a3a3a" text-anchor="middle">15</text>
<line x1="306.00" y1="309.60" x2="434.50" y2="309.60" stroke="#cacaca" stroke-width="1.1" />
<line x1="434.50" y1="309.60" x2="434.50" y2="429.10" stroke="#a8a8a8" stroke-width="1.2" />
<line x1="306.00" y1="309.10" x2="306.00" y2="429.70" stroke="#9a9a9a" stroke-width="1.1" />
<line x1="305.40" y1="429.10" x2="435.00" y2="429.10" stroke="#b0b0b0" stroke-width="1.3" />
<line x1="306.00" y1="318.00" x2="434.50" y2="318.00" stroke="#eba0a0" stroke-width="1.6" />
<text x="307.50" y="316.71" font-size="2.54" fill="#333" textLength="9.10" lengthAdjust="spacingAndGlyphs">3.82938</text>
<line x1="306.00" y1="421.10" x2="434.50" y2="421.10" stroke="#eba0a0" stroke-width="1.6" />
<text x="307.50" y="419.93" font-size="2.86" fill="#333" textLength="11.30" lengthAdjust="spacingAndGlyphs">-3.82938</text>
<line x1="306.00" y1="369.50" x2="434.50" y2="369.50" stroke="#404040" stroke-width="1.1" />
<text x="308.00" y="367.81" font-size="2.8" fill="#555">0</text>
<polyline points="312.10,362.20 320.38,347.60 328.66,395.10 336.94,376.60 345.22,364.40 353.50,364.40 361.78,376.60 370.06,359.30 378.34,391.20 386.62,386.50 394.90,370.80 403.18,350.40 411.46,375.50 419.74,378.50 428.02,350.40" fill="none" stroke="#555" stroke-width="0.6"/>
<rect x="310.70" y="360.80" width="2.80" height="2.80" fill="#1010c8" stroke="#444" stroke-width="0.35" stroke-opacity="0.6"/>
<rect x="318.98" y="346.20" width="2.80" height="2.80" fill="#20c820" stroke="#444" stroke-width="0.35" stroke-opacity="0.6"/>
<rect x="327.26" y="393.70" width="2.80" height="2.80" fill="#1010c8" stroke="#444" stroke-width="0.35" stroke-opacity="0.6"/>
<rect x="335.54" y="375.20" width="2.80" height="2.80" fill="#e07010" stroke="#444" stroke-width="0.35" stroke-opacity="0.6"/>
<rect x="343.82" y="363.00" width="2.80" height="2.80" fill="#20c820" stroke="#444" stroke-width="0.35" stroke-opacity="0.6"/>
<rect x="352.10" y="363.00" width="2.80" height="2.80" fill="#20c820" stroke="#444" stroke-width="0.35" stroke-opacity="0.6"/>
<rect x="360.38" y="375.20" width="2.80" height="2.80" fill="#e07010" stroke="#444" stroke-width="0.35" stroke-opacity="0.6"/>
<rect x="368.66" y="357.90" width="2.80" height="2.80" fill="#90d010" stroke="#444" stroke-width="0.35" stroke-opacity="0.6"/>
<rect x="376.94" y="389.80" width="2.80" height="2.80" fill="#1040d0" stroke="#444" stroke-width="0.35" stroke-opacity="0.6"/>
<rect x="385.22" y="385.10" width="2.80" height="2.80" fill="#e0d010" stroke="#444" stroke-width="0.35" stroke-opacity="0.6"/>
<rect x="393.50" y="369.40" width="2.80" height="2.80" fill="#1040d0" stroke="#444" stroke-width="0.35" stroke-opacity="0.6"/>
<rect x="401.78" y="349.00" width="2.80" height="2.80" fill="#20c820" stroke="#444" stroke-width="0.35" stroke-opacity="0.6"/>
<rect x="410.06" y="374.10" width="2.80" height="2.80" fill="#cc1010" stroke="#444" stroke-width="0.35" stroke-opacity="0.6"/>
<rect x="418.34" y="377.10" width="2.80" height="2.80" fill="#20c870" stroke="#444" stroke-width="0.35" stroke-opacity="0.6"/>
<rect x="426.62" y="349.00" width="2.80" height="2.80" fill="#90d010" stroke="#444" stroke-width="0.35" stroke-opacity="0.6"/>
<text x="359.00" y="444.86" font-size="3.78" fill="#000" textLength="21.40" lengthAdjust="spacingAndGlyphs">Run Number</text>
<text transform="translate(284.90,364.90) rotate(-90)" x="0" y="1.51" font-size="4.2" fill="#000" text-anchor="middle" textLength="49.40" lengthAdjust="spacingAndGlyphs">Externally Studentized Residuals</text>
<text x="464.00" y="306.52" font-size="3.94" fill="#111" stroke="#111" stroke-width="0.12" font-weight="bold" textLength="4.50" lengthAdjust="spacingAndGlyphs">EE</text>
<text x="464.00" y="320.22" font-size="4.5" fill="#111" stroke="#111" stroke-width="0.12" textLength="47.00" lengthAdjust="spacingAndGlyphs">Color points by value of</text>
<text x="464.00" y="326.85" font-size="4.3" fill="#111" stroke="#111" stroke-width="0.12" textLength="27.00" lengthAdjust="spacingAndGlyphs">Drug release :</text>
<text x="464.00" y="333.53" font-size="4.24" fill="#2020c0" stroke="#2020c0" stroke-width="0.12" textLength="10.60" lengthAdjust="spacingAndGlyphs">40.76</text>
<rect x="476.00" y="329.20" width="16.60" height="6.00" fill="url(#cbar)" stroke="#111" stroke-width="0.7"/>
<text x="494.30" y="333.54" font-size="4.28" fill="#c02020" stroke="#c02020" stroke-width="0.12" textLength="10.70" lengthAdjust="spacingAndGlyphs">78.74</text>
<text x="592.80" y="310.24" font-size="4.27" fill="#000" textLength="34.40" lengthAdjust="spacingAndGlyphs">Residuals vs. Run</text>
<text x="675.20" y="318.30" font-size="9.0" fill="#111" font-weight="bold" style='font-family:"Liberation Serif", serif'>I</text>
<line x1="545.00" y1="317.50" x2="547.50" y2="317.50" stroke="#666" stroke-width="0.7" />
<text x="544.00" y="318.80" font-size="3.6" fill="#3a3a3a" text-anchor="end">4.00</text>
<line x1="545.00" y1="343.90" x2="547.50" y2="343.90" stroke="#666" stroke-width="0.7" />
<text x="544.00" y="345.20" font-size="3.6" fill="#3a3a3a" text-anchor="end">2.00</text>
<line x1="545.00" y1="370.30" x2="547.50" y2="370.30" stroke="#666" stroke-width="0.7" />
<text x="544.00" y="371.60" font-size="3.6" fill="#3a3a3a" text-anchor="end">0.00</text>
<line x1="545.00" y1="396.70" x2="547.50" y2="396.70" stroke="#666" stroke-width="0.7" />
<text x="544.00" y="398.00" font-size="3.6" fill="#3a3a3a" text-anchor="end">-2.00</text>
<line x1="545.00" y1="423.10" x2="547.50" y2="423.10" stroke="#666" stroke-width="0.7" />
<text x="544.00" y="424.40" font-size="3.6" fill="#3a3a3a" text-anchor="end">-4.00</text>
<line x1="553.60" y1="428.30" x2="553.60" y2="430.80" stroke="#666" stroke-width="0.7" />
<text x="553.60" y="435.80" font-size="3.6" fill="#3a3a3a" text-anchor="middle">1</text>
<line x1="561.66" y1="428.30" x2="561.66" y2="429.80" stroke="#666" stroke-width="0.6" />
<line x1="569.72" y1="428.30" x2="569.72" y2="430.80" stroke="#666" stroke-width="0.7" />
<text x="569.72" y="435.80" font-size="3.6" fill="#3a3a3a" text-anchor="middle">3</text>
<line x1="577.78" y1="428.30" x2="577.78" y2="429.80" stroke="#666" stroke-width="0.6" />
<line x1="585.84" y1="428.30" x2="585.84" y2="430.80" stroke="#666" stroke-width="0.7" />
<text x="585.84" y="435.80" font-size="3.6" fill="#3a3a3a" text-anchor="middle">5</text>
<line x1="593.90" y1="428.30" x2="593.90" y2="429.80" stroke="#666" stroke-width="0.6" />
<line x1="601.96" y1="428.30" x2="601.96" y2="430.80" stroke="#666" stroke-width="0.7" />
<text x="601.96" y="435.80" font-size="3.6" fill="#3a3a3a" text-anchor="middle">7</text>
<line x1="610.02" y1="428.30" x2="610.02" y2="429.80" stroke="#666" stroke-width="0.6" />
<line x1="618.08" y1="428.30" x2="618.08" y2="430.80" stroke="#666" stroke-width="0.7" />
<text x="618.08" y="435.80" font-size="3.6" fill="#3a3a3a" text-anchor="middle">9</text>
<line x1="626.14" y1="428.30" x2="626.14" y2="429.80" stroke="#666" stroke-width="0.6" />
<line x1="634.20" y1="428.30" x2="634.20" y2="430.80" stroke="#666" stroke-width="0.7" />
<text x="634.20" y="435.80" font-size="3.6" fill="#3a3a3a" text-anchor="middle">11</text>
<line x1="642.26" y1="428.30" x2="642.26" y2="429.80" stroke="#666" stroke-width="0.6" />
<line x1="650.32" y1="428.30" x2="650.32" y2="430.80" stroke="#666" stroke-width="0.7" />
<text x="650.32" y="435.80" font-size="3.6" fill="#3a3a3a" text-anchor="middle">13</text>
<line x1="658.38" y1="428.30" x2="658.38" y2="429.80" stroke="#666" stroke-width="0.6" />
<line x1="666.44" y1="428.30" x2="666.44" y2="430.80" stroke="#666" stroke-width="0.7" />
<text x="666.44" y="435.80" font-size="3.6" fill="#3a3a3a" text-anchor="middle">15</text>
<line x1="547.50" y1="312.40" x2="672.50" y2="312.40" stroke="#cacaca" stroke-width="1.1" />
<line x1="672.50" y1="312.40" x2="672.50" y2="428.30" stroke="#a8a8a8" stroke-width="1.2" />
<line x1="547.50" y1="311.90" x2="547.50" y2="428.90" stroke="#9a9a9a" stroke-width="1.1" />
<line x1="546.90" y1="428.30" x2="673.00" y2="428.30" stroke="#b0b0b0" stroke-width="1.3" />
<line x1="547.50" y1="320.30" x2="672.50" y2="320.30" stroke="#e68a8a" stroke-width="1.3" />
<text x="549.00" y="319.09" font-size="2.74" fill="#333" textLength="9.90" lengthAdjust="spacingAndGlyphs">3.46754</text>
<line x1="547.50" y1="420.40" x2="672.50" y2="420.40" stroke="#e68a8a" stroke-width="1.3" />
<text x="549.00" y="419.18" font-size="2.71" fill="#333" textLength="10.70" lengthAdjust="spacingAndGlyphs">-3.46754</text>
<line x1="547.50" y1="370.50" x2="672.50" y2="370.50" stroke="#404040" stroke-width="1.1" />
<text x="549.50" y="368.81" font-size="2.8" fill="#555">0</text>
<polyline points="553.60,375.30 561.66,373.00 569.72,343.90 577.78,371.40 585.84,355.90 593.90,369.80 601.96,368.40 610.02,375.80 618.08,393.10 626.14,392.60 634.20,393.40 642.26,366.70 650.32,373.90 658.38,354.60 666.44,352.30" fill="none" stroke="#555" stroke-width="0.6"/>
<rect x="552.20" y="373.90" width="2.80" height="2.80" fill="#1010c8" stroke="#444" stroke-width="0.35" stroke-opacity="0.6"/>
<rect x="560.26" y="371.60" width="2.80" height="2.80" fill="#20c820" stroke="#444" stroke-width="0.35" stroke-opacity="0.6"/>
<rect x="568.32" y="342.50" width="2.80" height="2.80" fill="#1010c8" stroke="#444" stroke-width="0.35" stroke-opacity="0.6"/>
<rect x="576.38" y="370.00" width="2.80" height="2.80" fill="#e07010" stroke="#444" stroke-width="0.35" stroke-opacity="0.6"/>
<rect x="584.44" y="354.50" width="2.80" height="2.80" fill="#20c820" stroke="#444" stroke-width="0.35" stroke-opacity="0.6"/>
<rect x="592.50" y="368.40" width="2.80" height="2.80" fill="#20c820" stroke="#444" stroke-width="0.35" stroke-opacity="0.6"/>
<rect x="600.56" y="367.00" width="2.80" height="2.80" fill="#e07010" stroke="#444" stroke-width="0.35" stroke-opacity="0.6"/>
<rect x="608.62" y="374.40" width="2.80" height="2.80" fill="#90d010" stroke="#444" stroke-width="0.35" stroke-opacity="0.6"/>
<rect x="616.68" y="391.70" width="2.80" height="2.80" fill="#1040d0" stroke="#444" stroke-width="0.35" stroke-opacity="0.6"/>
<rect x="624.74" y="391.20" width="2.80" height="2.80" fill="#e0d010" stroke="#444" stroke-width="0.35" stroke-opacity="0.6"/>
<rect x="632.80" y="392.00" width="2.80" height="2.80" fill="#1040d0" stroke="#444" stroke-width="0.35" stroke-opacity="0.6"/>
<rect x="640.86" y="365.30" width="2.80" height="2.80" fill="#20c820" stroke="#444" stroke-width="0.35" stroke-opacity="0.6"/>
<rect x="648.92" y="372.50" width="2.80" height="2.80" fill="#cc1010" stroke="#444" stroke-width="0.35" stroke-opacity="0.6"/>
<rect x="656.98" y="353.20" width="2.80" height="2.80" fill="#20c870" stroke="#444" stroke-width="0.35" stroke-opacity="0.6"/>
<rect x="665.04" y="350.90" width="2.80" height="2.80" fill="#90d010" stroke="#444" stroke-width="0.35" stroke-opacity="0.6"/>
<text x="600.00" y="443.86" font-size="3.78" fill="#000" textLength="21.40" lengthAdjust="spacingAndGlyphs">Run Number</text>
<text transform="translate(527.50,370.00) rotate(-90)" x="0" y="1.51" font-size="4.2" fill="#000" text-anchor="middle" textLength="48.60" lengthAdjust="spacingAndGlyphs">Externally Studentized Residuals</text>
</svg>
</body></html>
